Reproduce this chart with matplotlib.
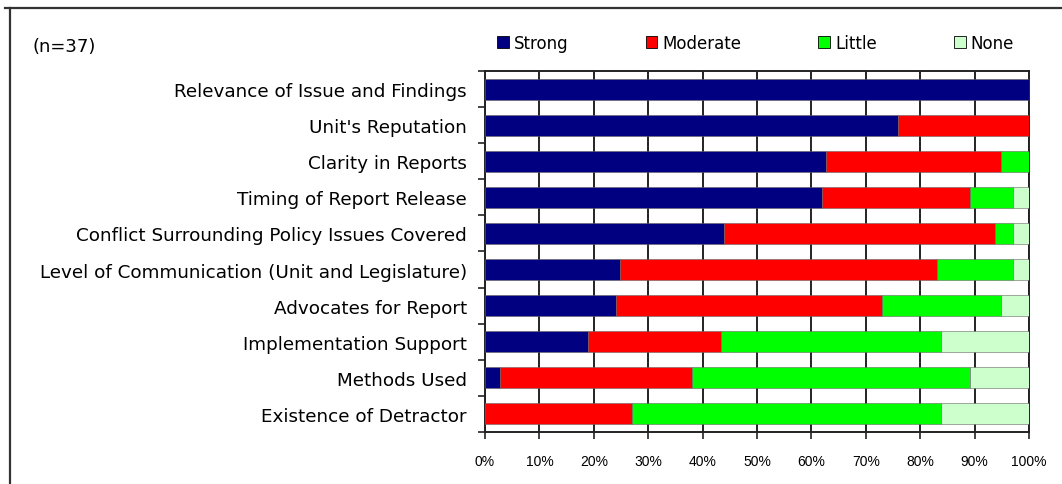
import matplotlib
matplotlib.use("Agg")
import matplotlib.pyplot as plt
from matplotlib.patches import Patch
from matplotlib.lines import Line2D
import numpy as np

plt.rcParams['font.family'] = ['DejaVu Sans']

categories = ["Relevance of Issue and Findings", "Unit's Reputation", "Clarity in Reports",
              "Timing of Report Release", "Conflict Surrounding Policy Issues Covered",
              "Level of Communication (Unit and Legislature)", "Advocates for Report",
              "Implementation Support", "Methods Used", "Existence of Detractor"]

# percent of respondents
strong   = [100, 75.9, 62.6, 62.0, 43.9, 24.8, 24.0, 18.9, 2.8, 0]
moderate = [0, 24.1, 32.2, 27.1, 49.9, 58.2, 48.9, 24.4, 35.2, 27.1]
little   = [0, 0, 5.2, 7.9, 3.2, 14.0, 21.9, 40.6, 51.1, 56.8]
none     = [0, 0, 0, 3.0, 3.0, 3.0, 5.2, 16.1, 10.9, 16.1]

series = [("Strong", strong, "#000080"), ("Moderate", moderate, "#ff0000"),
          ("Little", little, "#00ff00"), ("None", none, "#ccffcc")]
xticks = [0, 10, 20, 30, 40, 50, 60, 70, 80, 90, 100]

fig = plt.figure(figsize=(10.62, 4.85), dpi=100)
ax = fig.add_axes([485/1062, 1-433/485, 544/1062, 361/485])

y = np.arange(len(categories))
left = np.zeros(len(categories))
for name, vals, col in series:
    vals = np.array(vals)
    ax.barh(y, vals, left=left, height=0.58, color=col, edgecolor="#666666",
            linewidth=0.4, label=name, zorder=3)
    left += vals

ax.set_xlim(0, 100)
ax.set_ylim(len(categories)-0.5, -0.5)
ax.set_xticks(xticks)
ax.set_xticklabels([f"{t}%" for t in xticks], fontsize=10, family="Liberation Sans")
ax.set_yticks(y)
ax.set_yticklabels(categories, fontsize=13.2)
ax.set_yticks(np.arange(len(categories)+1)-0.5, minor=True)
ax.tick_params(axis='y', which='major', length=0, pad=13)
ax.tick_params(axis='y', which='minor', length=5, width=1.2, color="#222222")
ax.tick_params(axis='x', length=5, width=1.2, color="#222222", pad=11)
ax.grid(axis='x', color="#222222", linewidth=1.4, zorder=0)
for s in ax.spines.values():
    s.set_color("#222222")
    s.set_linewidth(1.4)

handles = [Patch(facecolor=c, edgecolor="black", linewidth=0.6, label=n) for n, v, c in series]
ax.legend(handles=handles, loc="lower left", bbox_to_anchor=(0.01, 1.035, 0.975, 0.1),
          mode="expand", ncol=4, frameon=False, fontsize=12,
          handlelength=0.7, handleheight=0.7, handletextpad=0.3, borderaxespad=0)

fig.text(33/1062, 1-47/485, "(n=37)", fontsize=13, va="center", ha="left")

# outer frame lines
fig.add_artist(Line2D([5/1062, 1], [1-9/485, 1-9/485], color="#333333", linewidth=1.6))
fig.add_artist(Line2D([10/1062, 10/1062], [0, 1-9/485], color="#333333", linewidth=1.6))

fig.savefig("out.png", dpi=100)
